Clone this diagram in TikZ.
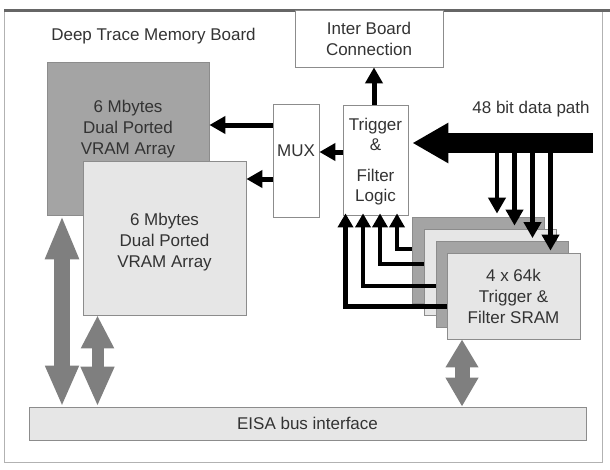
\documentclass[tikz,border=0pt]{standalone}
\usepackage{fontspec}
\setmainfont{Liberation Sans}
\usetikzlibrary{arrows.meta}
\definecolor{darkfill}{HTML}{A4A4A4}
\definecolor{lightfill}{HTML}{E6E6E6}
\definecolor{arrowgrey}{HTML}{7F7F7F}
\definecolor{boxline}{HTML}{8C8C8C}
\definecolor{txtcol}{HTML}{333333}
\begin{document}
\begin{tikzpicture}[x=1pt,y=-1pt,
  txt/.style={align=center, text=txtcol, font=\fontsize{17}{21}\selectfont, inner sep=0pt},
  box/.style={txt, draw=boxline, line width=0.8pt},
  darkbox/.style={box, fill=darkfill},
  lightbox/.style={box, fill=lightfill},
  whitebox/.style={box, fill=white},
  blk/.style={line width=5pt, -{Triangle[length=16pt,width=17pt]}},
  blks/.style={line width=4.6pt, -{Triangle[length=14pt,width=15pt]}},
  greyarrow/.style={draw=arrowgrey, line width=#1},
]
\useasboundingbox (0,0) rectangle (610,469);
% board frame
\node[draw=gray!60, line width=0.9pt, minimum width=598pt, minimum height=452pt, inner sep=0pt] (board) at (303,236) {};
\coordinate (topL) at (4,10);
\coordinate (topR) at (610,10);
\draw[line width=3pt, black!60] (topL) -- (topR);
\node[txt, anchor=base] (title) at (153.5,40) {Deep Trace Memory Board};

% boxes
\node[whitebox, minimum width=148pt, minimum height=57pt] (ibc) at (369,38.5) {Inter Board\\Connection};
\node[darkbox, minimum width=162pt, minimum height=153pt] (vramA) at (128,138.5) {};
\node[txt] (vramAtxt) at (128,129.5) {6 Mbytes\\Dual Ported\\VRAM Array};
\node[lightbox, minimum width=163pt, minimum height=154pt] (vramB) at (164.5,238) {};
\node[txt] (vramBtxt) at (164.5,242.5) {6 Mbytes\\Dual Ported\\VRAM Array};
\node[whitebox, minimum width=46pt, minimum height=113pt] (mux) at (296,160.5) {};
\node[txt] (muxtxt) at (296,151) {MUX};
\node[whitebox, minimum width=65pt, minimum height=110pt] (tf) at (375.5,160) {};
\node[txt, font=\fontsize{17}{20}\selectfont] (tftxt) at (375.5,161.5) {Trigger\\\&\\[11pt]Filter\\Logic};

\node[darkbox, minimum width=132pt, minimum height=86pt] (sram1) at (478,260) {};
\node[lightbox, minimum width=132pt, minimum height=86pt] (sram2) at (490,272) {};
\node[darkbox, minimum width=132pt, minimum height=86pt] (sram3) at (502,284.5) {};
\node[lightbox, minimum width=133pt, minimum height=86pt] (sram4) at (513.5,296) {4 x 64k\\Trigger \&\\Filter SRAM};

\node[lightbox, minimum width=557pt, minimum height=33pt] (eisa) at (307.5,423.5) {EISA bus interface};

\node[txt, anchor=base] (dplabel) at (531,113) {48 bit data path};

% black arrows
\draw[blk] (mux.west |- 0,125) -- (vramA.east |- 0,125);
\draw[blk] (mux.west |- 0,179) -- (vramB.east |- 0,179);
\draw[blk] (tf.west |- 0,152) -- (mux.east |- 0,152);
\draw[blk] (tf.north -| 374,0) -- (ibc.south -| 374,0);

% data path
\coordinate (dpin) at (593,143);
\coordinate (d1) at (497,143);
\coordinate (d2) at (514.5,143);
\coordinate (d3) at (532.5,143);
\coordinate (d4) at (550.5,143);
\draw[blk, line width=4.6pt, shorten >=3pt] (d1) -- (d1 |- sram1.north);
\draw[blk, line width=4.6pt, shorten >=3pt] (d2) -- (d2 |- sram2.north);
\draw[blk, line width=4.6pt, shorten >=3pt] (d3) -- (d3 |- sram3.north);
\draw[blk, line width=4.6pt, shorten >=2pt] (d4) -- (d4 |- sram4.north);
\draw[line width=20pt, -{Triangle[length=36pt,width=38pt]}, shorten >=4pt] (dpin) -- (tf.east |- dpin);

% feedback from SRAMs to trigger logic
\coordinate (f1) at (397,249);
\coordinate (f2) at (380,264);
\coordinate (f3) at (363,286);
\coordinate (f4) at (345.5,306.5);
\draw[blks, shorten >=-2pt] (sram1.west |- f1) -| (f1 |- tf.south);
\draw[blks, shorten >=-2pt] (sram2.west |- f2) -| (f2 |- tf.south);
\draw[blks, shorten >=-2pt] (sram3.west |- f3) -| (f3 |- tf.south);
\draw[blks, shorten >=-2pt] (sram4.west |- f4) -| (f4 |- tf.south);

% grey bidirectional arrows
\coordinate (g1) at (62,0);
\coordinate (g2) at (97.5,0);
\coordinate (g3) at (462,0);
\draw[greyarrow=16pt, {Triangle[length=44pt,width=31pt]}-{Triangle[length=41pt,width=31pt]}] (g1 |- vramA.south) -- (g1 |- eisa.north);
\draw[greyarrow=12pt, {Triangle[length=33pt,width=31pt]}-{Triangle[length=40pt,width=31pt]}] (g2 |- vramB.south) -- (g2 |- eisa.north);
\draw[greyarrow=15pt, {Triangle[length=28pt,width=31pt]}-{Triangle[length=29pt,width=31pt]}] (g3 |- sram4.south) -- (g3 |- eisa.north);
\end{tikzpicture}
\end{document}
